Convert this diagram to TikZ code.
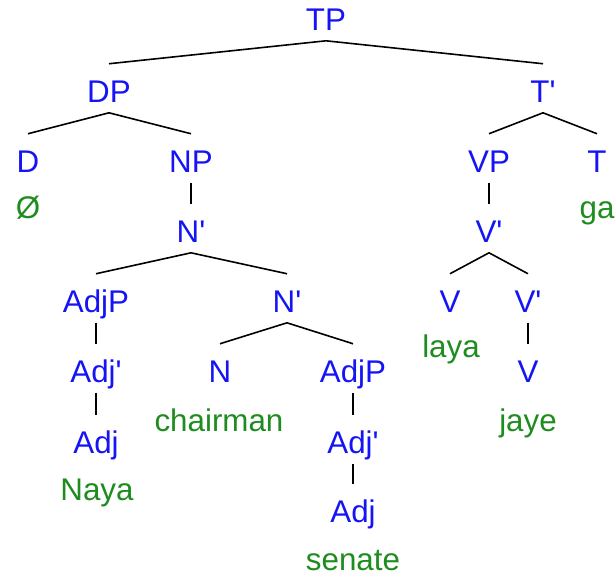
\documentclass[tikz,border=0pt]{standalone}
\usepackage{fontspec}
\setmainfont{Liberation Sans}
\usepackage{tikz}
\definecolor{catblue}{RGB}{20,20,245}
\definecolor{wordgreen}{RGB}{30,140,30}
\newcommand{\pr}{\textquotesingle}
\tikzset{
  cat/.style={text=catblue, font=\fontsize{23.5}{27}\selectfont, anchor=base,
    inner sep=0pt, text height=28.5pt, text depth=7.9pt},
  word/.style={text=wordgreen, font=\fontsize{23.5}{27}\selectfont, anchor=base,
    inner sep=0pt},
  branch/.style={draw=black, line width=1.2pt}
}

\begin{document}
\begin{tikzpicture}[x=0.75pt, y=-0.75pt]
\useasboundingbox (0,0) rectangle (616,579);
% categories
\node[cat] (TP) at (326,30) {TP};
\node[cat] (DP) at (109,102) {DP};
\node[cat] (Tb) at (543,102) {T\pr};
\node[cat] (D) at (28,172) {D};
\node[cat] (NP) at (191,172) {NP};
\node[cat] (VP) at (489,172) {VP};
\node[cat] (T) at (597,172) {T};
\node[cat] (Nb) at (191,242) {N\pr};
\node[cat] (Vb) at (489,242) {V\pr};
\node[cat] (AdjP) at (96,312) {AdjP};
\node[cat] (Nbb) at (287,312) {N\pr};
\node[cat] (V) at (450,312) {V};
\node[cat] (Vbb) at (528,312) {V\pr};
\node[cat] (Adjb) at (96,382) {Adj\pr};
\node[cat] (N) at (220,382) {N};
\node[cat] (AdjPb) at (353,382) {AdjP};
\node[cat] (Vc) at (528,382) {V};
\node[cat] (Adj) at (96,453) {Adj};
\node[cat] (Adjbb) at (353,453) {Adj\pr};
\node[cat] (Adjc) at (353,522) {Adj};
% words
\node[word] (null) at (28,218) {Ø};
\node[word] (ga) at (597,218) {ga};
\node[word] (laya) at (451,357) {laya};
\node[word] (chairman) at (219,431) {chairman};
\node[word] (jaye) at (528,431) {jaye};
\node[word] (naya) at (97,500) {Naya};
\node[word] (senate) at (353,570) {senate};
% branches
\draw[branch] (DP.north) -- (TP.south) -- (Tb.north);
\draw[branch] (D.north) -- (DP.south) -- (NP.north);
\draw[branch] (VP.north) -- (Tb.south) -- (T.north);
\draw[branch] (NP.south) -- (Nb.north);
\draw[branch] (VP.south) -- (Vb.north);
\draw[branch] (AdjP.north) -- (Nb.south) -- (Nbb.north);
\draw[branch] (V.north) -- (Vb.south) -- (Vbb.north);
\draw[branch] (AdjP.south) -- (Adjb.north);
\draw[branch] (N.north) -- (Nbb.south) -- (AdjPb.north);
\draw[branch] (Vbb.south) -- (Vc.north);
\draw[branch] (Adjb.south) -- (Adj.north);
\draw[branch] (AdjPb.south) -- (Adjbb.north);
\draw[branch] (Adjbb.south) -- (Adjc.north);
\end{tikzpicture}
\end{document}
